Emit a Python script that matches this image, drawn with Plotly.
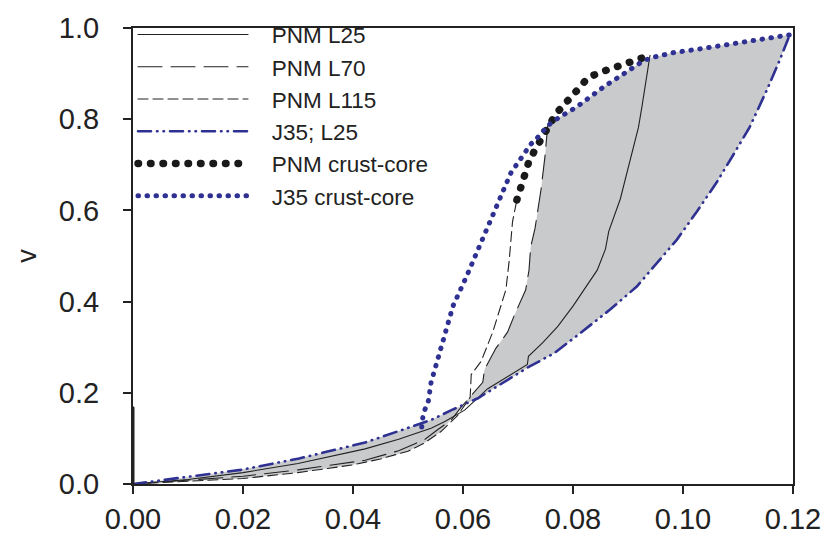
import plotly.graph_objects as go

# PNM, L = 25 MeV
pnm_l25_x = [0.0, 0.01, 0.02, 0.03, 0.0422, 0.0483, 0.0543, 0.0567, 0.0603, 0.0645, 0.0717, 0.0719,
             0.0745, 0.0772, 0.0800, 0.0820, 0.0844, 0.0859, 0.0865, 0.0886, 0.0904, 0.0919,
             0.0925, 0.0934, 0.0940]
pnm_l25_y = [0.0, 0.010, 0.025, 0.045, 0.077, 0.098, 0.123, 0.137, 0.162, 0.209, 0.262, 0.280,
             0.310, 0.345, 0.390, 0.426, 0.469, 0.515, 0.554, 0.625, 0.711, 0.782,
             0.825, 0.896, 0.940]

# PNM, L = 70 MeV
pnm_l70_x = [0.0, 0.01, 0.02, 0.03, 0.0422, 0.0483, 0.0531, 0.0555, 0.0579, 0.0597, 0.0636, 0.0639,
             0.0660, 0.0681, 0.0693, 0.0714, 0.0720, 0.0723, 0.0731, 0.0742, 0.0749, 0.0754]
pnm_l70_y = [0.0, 0.008, 0.017, 0.031, 0.052, 0.073, 0.098, 0.120, 0.141, 0.169, 0.223, 0.251,
             0.298, 0.333, 0.369, 0.426, 0.469, 0.519, 0.561, 0.647, 0.718, 0.786]

# PNM, L = 115 MeV
pnm_l115_x = [0.0, 0.01, 0.02, 0.03, 0.04, 0.045, 0.05, 0.053, 0.056, 0.059, 0.0613, 0.0615,
              0.0633, 0.0654, 0.0663, 0.0678, 0.0684, 0.0690, 0.0698]
pnm_l115_y = [0.0, 0.006, 0.012, 0.025, 0.042, 0.055, 0.072, 0.090, 0.115, 0.150, 0.190, 0.240,
              0.269, 0.333, 0.369, 0.426, 0.490, 0.575, 0.623]

# J35 functional, L = 25 MeV
j35_x = [0.0, 0.01, 0.0196, 0.0302, 0.0422, 0.0483, 0.0543, 0.0579, 0.0627, 0.0717, 0.0766, 0.0808,
         0.0868, 0.0916, 0.0949, 0.0989, 0.1025, 0.1061, 0.1091, 0.1121, 0.1154, 0.1176, 0.1194]
j35_y = [0.0, 0.015, 0.031, 0.056, 0.091, 0.116, 0.141, 0.162, 0.188, 0.255, 0.287, 0.326,
         0.383, 0.433, 0.480, 0.536, 0.597, 0.661, 0.721, 0.782, 0.868, 0.930, 0.985]

# PNM crust-core transition points
pnm_cc_x = [0.0698, 0.0705, 0.0711, 0.0719, 0.0730, 0.0742, 0.0754, 0.0769, 0.0808, 0.0827,
            0.0850, 0.0872, 0.0895, 0.0918, 0.0940]
pnm_cc_y = [0.623, 0.650, 0.677, 0.704, 0.731, 0.756, 0.784, 0.812, 0.864, 0.891,
            0.903, 0.912, 0.922, 0.932, 0.940]

# J35 crust-core transition points
j35_cc_x = [0.0525, 0.0526, 0.0530, 0.0537, 0.0542, 0.0561, 0.0582, 0.0606, 0.0627, 0.0642,
            0.0657, 0.0672, 0.0687, 0.0708, 0.0723, 0.0739, 0.0754, 0.0770, 0.0808, 0.0856,
            0.0892, 0.0928, 0.0943, 0.0983, 0.1030, 0.1084, 0.1139, 0.1194]
j35_cc_y = [0.125, 0.141, 0.161, 0.182, 0.223, 0.305, 0.391, 0.454, 0.515, 0.555,
            0.598, 0.640, 0.682, 0.721, 0.745, 0.764, 0.786, 0.800, 0.828, 0.871,
            0.900, 0.928, 0.935, 0.946, 0.954, 0.964, 0.974, 0.985]

# short vertical segment along v axis at zero density
edge_x = [0.0, 0.0]
edge_y = [0.0, 0.167]

x_ticks = [0.0, 0.02, 0.04, 0.06, 0.08, 0.10, 0.12]
y_ticks = [0.0, 0.2, 0.4, 0.6, 0.8, 1.0]

BLUE = "#2e3192"
GRAY = "#c9cacc"
INK = "#222222"
FONT = "Liberation Sans, Arial, sans-serif"
PAD = "\u00a0\u00a0\u00a0"

# shaded band: lowest PNM curve, then L70 branch, J35 crust-core top, back along J35 curve
band_x, band_y = [], []
for x, y in zip(pnm_l115_x, pnm_l115_y):
    if x <= 0.058:
        band_x.append(x); band_y.append(y)
for x, y in zip(pnm_l70_x, pnm_l70_y):
    if x >= 0.0597:
        band_x.append(x); band_y.append(y)
for x, y in zip(j35_cc_x, j35_cc_y):
    if x > 0.0754:
        band_x.append(x); band_y.append(y)
band_x += j35_x[::-1]
band_y += j35_y[::-1]

fig = go.Figure()
fig.add_trace(go.Scatter(x=band_x, y=band_y, fill="toself", fillcolor=GRAY, mode="lines",
                         line=dict(width=0, color=GRAY), showlegend=False, hoverinfo="skip"))

fig.add_trace(go.Scatter(x=pnm_l25_x, y=pnm_l25_y, mode="lines", name=PAD + "PNM L25",
                         legendgroup="a", line=dict(color=INK, width=1.1)))
fig.add_trace(go.Scatter(x=pnm_l70_x, y=pnm_l70_y, mode="lines", name=PAD + "PNM L70",
                         legendgroup="b", line=dict(color=INK, width=1.1, dash="24px,9px")))
fig.add_trace(go.Scatter(x=pnm_l115_x, y=pnm_l115_y, mode="lines", name=PAD + "PNM L115",
                         legendgroup="c", line=dict(color=INK, width=1.1, dash="10px,5px")))
fig.add_trace(go.Scatter(x=j35_x, y=j35_y, mode="lines", name=PAD + "J35; L25", legendgroup="d",
                         line=dict(color=BLUE, width=2.6, dash="13px,6px,0.5px,6px,0.5px,6px")))
fig.add_trace(go.Scatter(x=pnm_cc_x, y=pnm_cc_y, mode="lines", name=PAD + "PNM crust-core",
                         legendgroup="e", line=dict(color="#1a1a1a", width=7.5, dash="0.5px,12px")))
fig.add_trace(go.Scatter(x=j35_cc_x, y=j35_cc_y, mode="lines", name=PAD + "J35 crust-core",
                         legendgroup="f", line=dict(color=BLUE, width=5, dash="0.5px,8.5px")))
fig.add_trace(go.Scatter(x=edge_x, y=edge_y, mode="lines", showlegend=False,
                         line=dict(color=INK, width=3), hoverinfo="skip"))

axis_common = dict(showgrid=False, zeroline=False, showline=True, linecolor=INK,
                   linewidth=2, mirror=True, ticks="outside", ticklen=8, tickwidth=1.5,
                   tickcolor=INK, tickfont=dict(family=FONT, size=29, color=INK))

fig.update_xaxes(range=[0, 0.12], tickvals=x_ticks, tickformat=".2f", **axis_common)
fig.update_yaxes(range=[0, 1.0], tickvals=y_ticks, tickformat=".1f", ticklabelstandoff=18,
                 title=dict(text="v", font=dict(family=FONT, size=27, color=INK), standoff=14),
                 **axis_common)

fig.update_layout(
    width=833, height=547,
    margin=dict(l=133, r=36, t=17, b=61),
    paper_bgcolor="white", plot_bgcolor="white",
    font=dict(family=FONT, size=22.5, color=INK),
    showlegend=True,
    legend=dict(x=0.0, y=1.032, xanchor="left", yanchor="top", bgcolor="rgba(0,0,0,0)",
                itemwidth=110, tracegroupgap=0, traceorder="grouped",
                font=dict(family=FONT, size=22.5, color=INK)),
)

round_caps = (
    "var s=document.createElement('style');"
    "s.textContent='path.js-line{stroke-linecap:round !important;}';"
    "document.head.appendChild(s);"
)
fig.write_html("out.html", post_script=round_caps)
